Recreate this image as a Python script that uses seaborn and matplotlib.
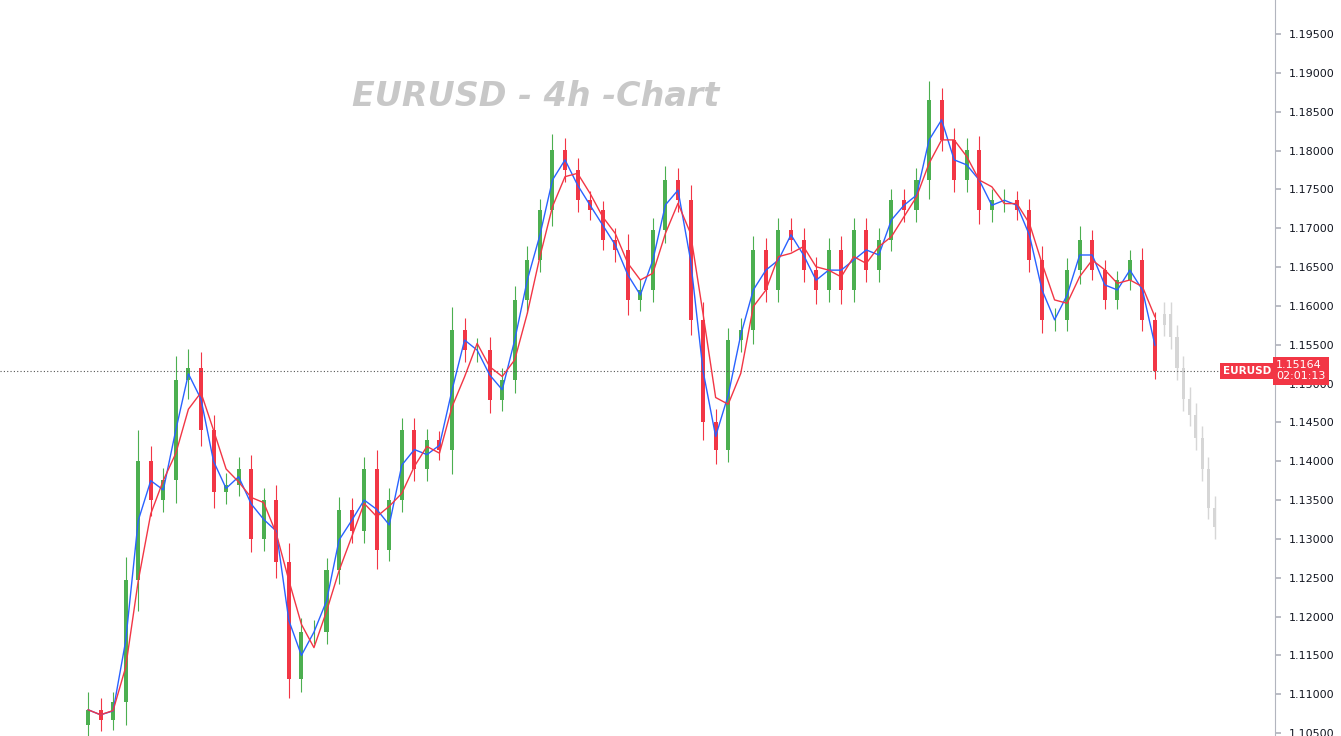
import numpy as np
import pandas as pd
import seaborn as sns
import matplotlib
matplotlib.use("Agg")
import matplotlib.pyplot as plt

closes = [1.1080, 1.1067, 1.1090, 1.1247, 1.1400, 1.1350, 1.1376, 1.1505, 1.1520, 1.1440,
          1.1360, 1.1370, 1.1390, 1.1300, 1.1350, 1.1270, 1.1120, 1.1180, 1.1180, 1.1260,
          1.1337, 1.1310, 1.1390, 1.1286, 1.1350, 1.1440, 1.1390, 1.1427, 1.1414, 1.1569,
          1.1543, 1.1543, 1.1479, 1.1505, 1.1608, 1.1659, 1.1723, 1.1801, 1.1775, 1.1736,
          1.1723, 1.1685, 1.1672, 1.1608, 1.1620, 1.1698, 1.1762, 1.1736, 1.1582, 1.1450,
          1.1414, 1.1556, 1.1569, 1.1672, 1.1620, 1.1698, 1.1685, 1.1646, 1.1620, 1.1672,
          1.1620, 1.1698, 1.1646, 1.1685, 1.1736, 1.1723, 1.1762, 1.1865, 1.1814, 1.1762,
          1.1801, 1.1723, 1.1736, 1.1736, 1.1723, 1.1659, 1.1582, 1.1582, 1.1646, 1.1685,
          1.1646, 1.1608, 1.1633, 1.1659, 1.1582, 1.1516]
wicks = [0.0045, 0.0030, 0.0025, 0.0060, 0.0080, 0.0040, 0.0030, 0.0060, 0.0050, 0.0040,
         0.0040, 0.0030, 0.0030, 0.0035, 0.0030, 0.0040, 0.0050, 0.0035, 0.0030, 0.0030,
         0.0035, 0.0030, 0.0030, 0.0050, 0.0030, 0.0030, 0.0030, 0.0030, 0.0025, 0.0060,
         0.0030, 0.0030, 0.0035, 0.0030, 0.0035, 0.0035, 0.0030, 0.0040, 0.0030, 0.0030,
         0.0025, 0.0025, 0.0030, 0.0040, 0.0030, 0.0030, 0.0035, 0.0030, 0.0040, 0.0045,
         0.0035, 0.0030, 0.0030, 0.0035, 0.0030, 0.0030, 0.0030, 0.0030, 0.0035, 0.0030,
         0.0035, 0.0030, 0.0030, 0.0030, 0.0030, 0.0030, 0.0030, 0.0050, 0.0030, 0.0030,
         0.0030, 0.0035, 0.0030, 0.0030, 0.0025, 0.0030, 0.0035, 0.0030, 0.0030, 0.0035,
         0.0025, 0.0025, 0.0025, 0.0025, 0.0030, 0.0020]
ghost_closes = [1.1590, 1.1560, 1.1520, 1.1480, 1.1460, 1.1430, 1.1390, 1.1340, 1.1315]
yticks = [1.105 + 0.005 * i for i in range(19)]
last_price = "1.15164"
countdown = "02:01:13"
title = "EURUSD - 4h -Chart"

sns.set_theme(style="white")
plt.rcParams['font.family'] = ['DejaVu Sans']
fig = plt.figure(figsize=(13.41, 7.36), dpi=100)
ax = fig.add_axes([0, 0, 1275 / 1341, 1])

n = len(closes)
df = pd.DataFrame({"x": np.arange(n), "close": closes, "wick": wicks})
df["open"] = df["close"].shift(1).fillna(df["close"].iloc[0] - 0.002)
df["high"] = df[["open", "close"]].max(axis=1) + df["wick"] * 0.5
df["low"] = df[["open", "close"]].min(axis=1) - df["wick"] * 0.5
up = df["close"] >= df["open"]
colors = np.where(up, "#4caf50", "#f23645")
ax.vlines(df["x"], df["low"], df["high"], colors=colors, lw=0.8, zorder=2)
ax.bar(df["x"], (df["close"] - df["open"]).abs(), bottom=df[["open", "close"]].min(axis=1),
       width=0.32, color=colors, linewidth=0, zorder=2)

df["ma_fast"] = df["close"].rolling(2, min_periods=1).mean()
df["ma_slow"] = df["close"].rolling(3, min_periods=1).mean()
sns.lineplot(data=df, x="x", y="ma_fast", ax=ax, color="#2962ff", lw=1, zorder=3)
sns.lineplot(data=df, x="x", y="ma_slow", ax=ax, color="#f23645", lw=1, zorder=3)

gx = np.arange(n, n + len(ghost_closes)) - 0.5
go = [closes[-1] + 0.006] + ghost_closes[:-1]
gdf = pd.DataFrame({"x": gx * 0.5 + n * 0.5, "o": go, "c": ghost_closes})
ax.vlines(gdf["x"], gdf[["o", "c"]].min(axis=1) - 0.0015, gdf[["o", "c"]].max(axis=1) + 0.0015,
          colors="#d6d6d6", lw=1)
ax.bar(gdf["x"], (gdf["c"] - gdf["o"]).abs(), bottom=gdf[["o", "c"]].min(axis=1), width=0.25,
       color="#d6d6d6", linewidth=0)

scale = (n - 1) / (1155 - 88)
ax.set_xlim(-88 * scale, (1275 - 88) * scale)
ax.set_ylim(1.10462, 1.19938)

lp = float(last_price)
ax.axhline(lp, color="#555555", lw=0.8, ls=(0, (1, 2)))

ax.yaxis.tick_right()
ax.set_yticks(yticks)
ax.set_yticklabels([f"{t:.5f}" for t in yticks], fontsize=8, color="#131722")
ax.tick_params(axis="y", length=4, color="#b2b5be", pad=6)
ax.set_xticks([])
ax.set_xlabel("")
ax.set_ylabel("")
for s in ["top", "left", "bottom"]:
    ax.spines[s].set_visible(False)
ax.spines["right"].set_color("#b2b5be")
ax.spines["right"].set_linewidth(0.8)

ax.text(1.001, lp, f"{last_price}\n{countdown}", transform=ax.get_yaxis_transform(),
        ha="left", va="center", fontsize=8, color="white", linespacing=1.1, zorder=10,
        bbox=dict(boxstyle="square,pad=0.3", fc="#f23645", ec="none"), clip_on=False)
ax.text(0.997, lp, "EURUSD", transform=ax.get_yaxis_transform(), ha="right", va="center",
        fontsize=7.5, color="white", fontweight="bold",
        bbox=dict(boxstyle="square,pad=0.3", fc="#f23645", ec="none"))

ax.text(536 / 1275, 1 - 97 / 736, title, transform=ax.transAxes, ha="center", va="center",
        fontsize=24, fontweight="bold", fontstyle="italic", color="#c8c8c8")

fig.savefig("out.png", dpi=100)
